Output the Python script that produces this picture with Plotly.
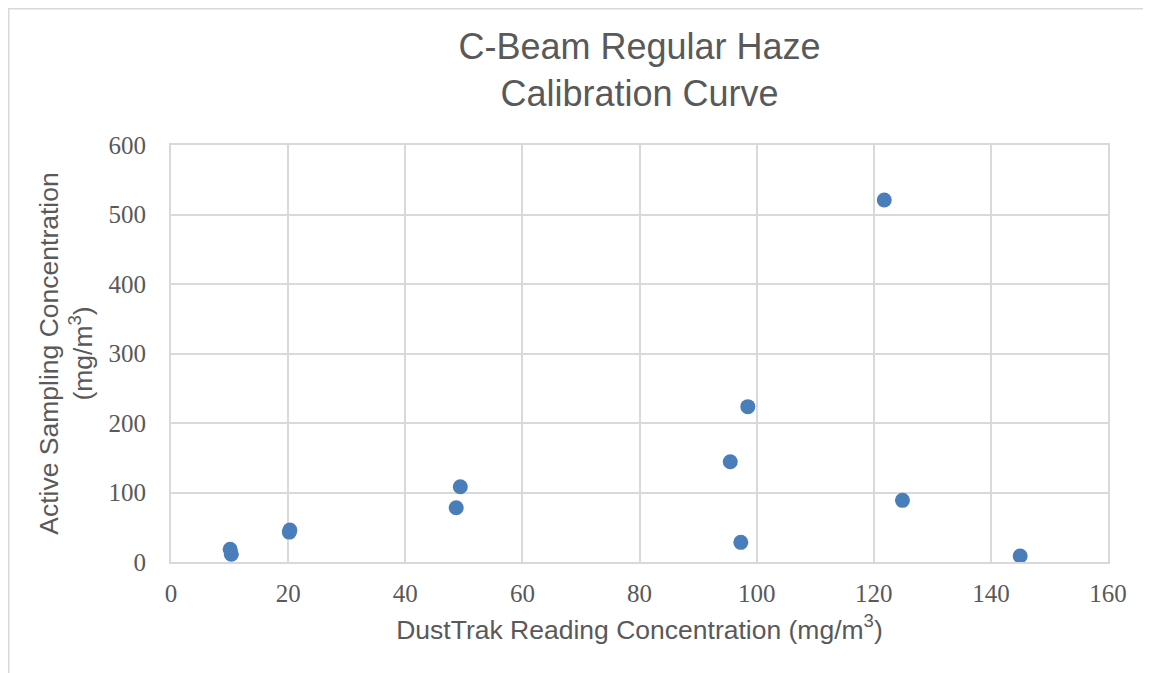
import plotly.graph_objects as go

# Data
dusttrak_mg_m3 = [10.1, 10.3, 20.2, 20.3, 48.7, 49.4, 95.5, 97.3, 98.5, 121.8, 124.9, 145.0]
active_mg_m3 = [18.3, 11.1, 43.0, 46.0, 78.1, 108.3, 144.3, 28.3, 223.5, 520.9, 88.7, 8.6]

x_ticks = [0, 20, 40, 60, 80, 100, 120, 140, 160]
y_ticks = [0, 100, 200, 300, 400, 500, 600]

TEXT = "#595959"
GRID = "#D9D9D9"
BLUE = "#4A7EBB"

fig = go.Figure(
    go.Scatter(
        x=dusttrak_mg_m3,
        y=active_mg_m3,
        mode="markers",
        marker=dict(size=15, color=BLUE, line=dict(width=0)),
        showlegend=False,
    )
)

# the page body adds an 8px offset; compensate so the plot area lands at 171..1108 / 145..562
OFF = 8
W, H = 1151 - OFF, 673 - OFF
L, R, T, B = 171 - OFF, 1108 - OFF, 145 - OFF, 562 - OFF

fig.update_layout(
    width=W,
    height=H,
    margin=dict(l=L, r=W - R, t=T, b=H - B, pad=0),
    paper_bgcolor="white",
    plot_bgcolor="white",
    title=dict(
        text="C-Beam Regular Haze<br>Calibration Curve",
        font=dict(family="Liberation Sans, Arial", size=36, color=TEXT),
        x=0.5,
        xanchor="center",
        xref="paper",
        y=1 - (59 - OFF) / H,
        yanchor="middle",
    ),
)

fig.update_xaxes(
    range=[0, 160],
    tickvals=x_ticks,
    showgrid=True,
    gridcolor=GRID,
    gridwidth=2,
    showline=True,
    linecolor=GRID,
    linewidth=2,
    mirror=True,
    zeroline=False,
    ticks="",
    ticklabelstandoff=8,
    tickfont=dict(family="Liberation Serif, DejaVu Serif", size=25, color=TEXT),
    title=dict(
        text="DustTrak Reading Concentration (mg/m<sup>3</sup>)",
        font=dict(family="Liberation Sans, Arial", size=26.5, color=TEXT),
        standoff=14,
    ),
)

fig.update_yaxes(
    range=[0, 600],
    tickvals=y_ticks,
    showgrid=True,
    gridcolor=GRID,
    gridwidth=2,
    showline=True,
    linecolor=GRID,
    linewidth=2,
    mirror=True,
    zeroline=False,
    ticks="",
    ticklabelstandoff=18,
    tickfont=dict(family="Liberation Serif, DejaVu Serif", size=25, color=TEXT),
    title=dict(
        text="Active Sampling Concentration<br>(mg/m<sup>3</sup>)",
        font=dict(family="Liberation Sans, Arial", size=26.5, color=TEXT),
        standoff=8,
    ),
)

# Outer chart border (as in the spreadsheet chart)
pw, ph = R - L, B - T
fig.add_shape(
    type="rect",
    xref="paper",
    yref="paper",
    x0=(0.75 - L) / pw,
    x1=(W + 5 - L) / pw,
    y0=(B - (H + 5)) / ph,
    y1=(B - 0.75) / ph,
    line=dict(color=GRID, width=1.5),
    fillcolor="rgba(0,0,0,0)",
    layer="below",
)

fig.write_html("out.html")
